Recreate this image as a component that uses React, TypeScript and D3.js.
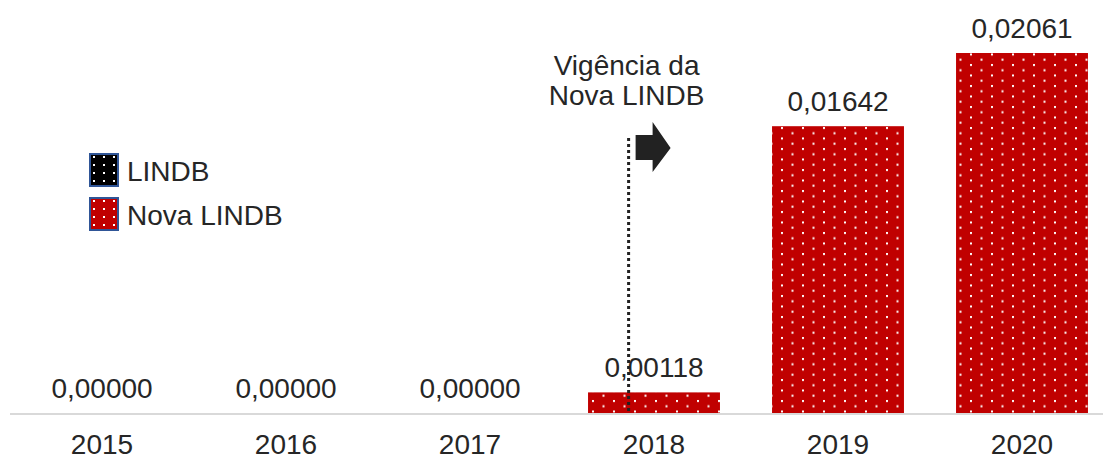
import React from 'react';
import * as d3 from 'd3';

// values
const years = ['2015', '2016', '2017', '2018', '2019', '2020'];
const values = [0, 0, 0, 0.00118, 0.01642, 0.02061];
const labels = ['0,00000', '0,00000', '0,00000', '0,00118', '0,01642', '0,02061'];
const legendItems = ['LINDB', 'Nova LINDB'];
const legendColors = ['#000000', '#c00000'];
const annotationLines = ['Vigência da', 'Nova LINDB'];
const annotationYear = '2018';

const width = 1103;
const height = 459;
const font = '"Liberation Sans", Arial, sans-serif';
const textColor = '#262626';
const fs = 28;

const App = () => {
    const xScale = d3.scaleBand().domain(years).range([10, 1114]).padding(0);
    const barW = xScale.step() * 0.717;
    const yScale = d3.scaleLinear().domain([0, 0.0225]).range([413, 20]);

    const annX = (xScale(annotationYear) as number) + xScale.bandwidth() * 0.362;

    return (
        <svg width={width} height={height} style={{ position: 'absolute', left: 0, top: 0 }}
            fontFamily={font}>
            <defs>
                {legendColors.map((c, i) => (
                    <pattern key={i} id={'dots' + i} patternUnits='userSpaceOnUse'
                        width={21} height={10.5}>
                        <rect width={21} height={10.5} fill={c} />
                        <rect x={4} y={1} width={2} height={2} fill='#fff' />
                        <rect x={14.5} y={6.25} width={2} height={2} fill='#fff' />
                    </pattern>
                ))}
                <pattern id='legdots' patternUnits='userSpaceOnUse' width={10} height={8}>
                    <rect width={10} height={8} fill='none' />
                    <rect x={3} y={2} width={2} height={2} fill='#fff' />
                </pattern>
            </defs>

            {/* axis line */}
            <line x1={10} x2={width} y1={yScale(0) + 1} y2={yScale(0) + 1}
                stroke='#d9d9d9' strokeWidth={2} />

            {years.map((y, i) => {
                const cx = (xScale(y) as number) + xScale.bandwidth() / 2;
                const top = yScale(values[i]);
                return (
                    <g key={y}>
                        {values[i] > 0 && (
                            <rect x={cx - barW / 2} y={top} width={barW}
                                height={yScale(0) - top} fill='url(#dots1)' />
                        )}
                        <text x={cx} y={top - 15} textAnchor='middle' fontSize={fs}
                            fill={textColor}>{labels[i]}</text>
                        <text x={cx} y={454} textAnchor='middle' fontSize={fs}
                            fill={textColor}>{y}</text>
                    </g>
                );
            })}

            {/* annotation */}
            <line x1={annX} x2={annX} y1={138} y2={yScale(0)} stroke='#222'
                strokeWidth={3} strokeDasharray='3 3' />
            <path d={`M${annX + 7},135 H${annX + 24} V122 L${annX + 42},148 L${annX + 24},172 V160 H${annX + 7} Z`}
                fill='#222' />
            {annotationLines.map((t, i) => (
                <text key={t} x={annX - 2} y={75 + i * 30} textAnchor='middle' fontSize={fs}
                    fill={textColor}>{t}</text>
            ))}

            {/* legend */}
            {legendItems.map((t, i) => (
                <g key={t} transform={`translate(90, ${154 + i * 44})`}>
                    <rect width={28} height={32} fill={legendColors[i]} stroke='#2f5597'
                        strokeWidth={2} />
                    <rect x={1} y={1} width={26} height={30} fill='url(#legdots)' />
                    <text x={37} y={27} fontSize={fs} fill={textColor}>{t}</text>
                </g>
            ))}
        </svg>
    );
};

export default App;
